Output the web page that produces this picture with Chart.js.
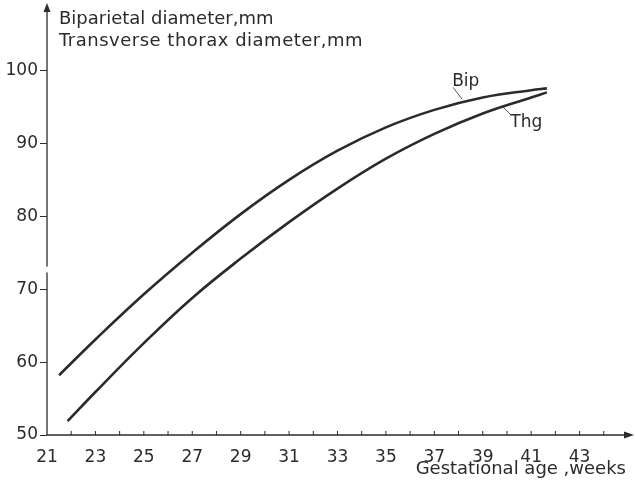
<!DOCTYPE html>
<html>
<head>
<meta charset="utf-8">
<script src="https://cdn.jsdelivr.net/npm/chart.js@4"></script>
<style>
  html, body { margin: 0; padding: 0; background: #fff; }
  #wrap { width: 635px; height: 481px; }
</style>
</head>
<body>
<div id="wrap"><canvas id="chart" width="635" height="481"></canvas></div>
<script>
// values
const bipWeeks = [21.5, 23, 25, 27, 29, 31, 33, 35, 37, 39, 41, 41.65];
const bipValues = [58.2, 63.1, 69.3, 75.0, 80.3, 85.0, 89.0, 92.2, 94.6, 96.3, 97.3, 97.55];
const thgWeeks = [21.85, 23, 25, 27, 29, 31, 33, 35, 37, 39, 41, 41.65];
const thgValues = [51.9, 55.9, 62.6, 68.8, 74.2, 79.2, 83.8, 87.9, 91.3, 94.1, 96.3, 97.0];
const xTickLabels = [21, 23, 25, 27, 29, 31, 33, 35, 37, 39, 41, 43];
const yTickLabels = [50, 60, 70, 80, 90, 100];
const yTitleLines = ['Biparietal diameter,mm', 'Transverse thorax diameter,mm'];
const xTitle = 'Gestational age ,weeks';

const ink = '#2b2b2b';
const font = '"DejaVu Sans", sans-serif';

// axis arrows, break, inner x ticks, titles and curve labels
const decorations = {
  id: 'decorations',
  afterDraw(chart) {
    const ctx = chart.ctx;
    const x = chart.scales.x, y = chart.scales.y;
    const x0 = x.left, y0 = y.bottom;
    ctx.save();
    ctx.strokeStyle = ink;
    ctx.fillStyle = ink;
    ctx.lineWidth = 1.3;

    // y axis up to arrow
    ctx.beginPath();
    ctx.moveTo(x0, y0);
    ctx.lineTo(x0, 8);
    ctx.stroke();
    ctx.beginPath();
    ctx.moveTo(x0, 3); ctx.lineTo(x0 - 3.5, 12); ctx.lineTo(x0 + 3.5, 12);
    ctx.closePath(); ctx.fill();

    // x axis to arrow
    ctx.beginPath();
    ctx.moveTo(x0, y0);
    ctx.lineTo(626, y0);
    ctx.stroke();
    ctx.beginPath();
    ctx.moveTo(634, y0); ctx.lineTo(624, y0 - 3.5); ctx.lineTo(624, y0 + 3.5);
    ctx.closePath(); ctx.fill();

    // break in y axis
    ctx.fillStyle = '#fff';
    const b1 = y.getPixelForValue(73.1), b2 = y.getPixelForValue(72.3);
    ctx.fillRect(x0 - 2, b1, 4, b2 - b1);
    ctx.fillStyle = ink;

    // small ticks on x axis, every week, pointing up
    ctx.lineWidth = 1;
    for (let w = 22; w <= 44; w++) {
      const px = x.getPixelForValue(w);
      ctx.beginPath();
      ctx.moveTo(px, y0);
      ctx.lineTo(px, y0 - 4);
      ctx.stroke();
    }

    // titles
    ctx.font = '18px ' + font;
    ctx.textBaseline = 'alphabetic';
    ctx.textAlign = 'left';
    ctx.fillText(yTitleLines[0], 59, 24);
    ctx.letterSpacing = '0.5px';
    ctx.fillText(yTitleLines[1], 59, 46);
    ctx.letterSpacing = '0px';
    ctx.textAlign = 'right';
    ctx.fillText(xTitle, 626, 474);

    // curve labels with leader lines
    const bx = x.getPixelForValue(38.15), by = y.getPixelForValue(95.9);
    ctx.lineWidth = 0.8;
    ctx.beginPath();
    ctx.moveTo(bx, by - 1);
    ctx.lineTo(bx - 9, by - 13);
    ctx.stroke();
    ctx.textAlign = 'left';
    ctx.font = '17px ' + font;
    ctx.fillText('Bip', bx - 10, by - 14);

    const tx = x.getPixelForValue(39.85), ty = y.getPixelForValue(95.1);
    ctx.beginPath();
    ctx.moveTo(tx, ty + 1);
    ctx.lineTo(tx + 7, ty + 8);
    ctx.stroke();
    ctx.fillText('Thg', tx + 7, ty + 21);

    ctx.restore();
  }
};

new Chart(document.getElementById('chart'), {
  type: 'line',
  data: {
    datasets: [
      {
        label: 'Bip',
        data: bipWeeks.map((w, i) => ({ x: w, y: bipValues[i] })),
        borderColor: ink,
        borderWidth: 2.6,
        pointRadius: 0,
        tension: 0.4,
        fill: false
      },
      {
        label: 'Thg',
        data: thgWeeks.map((w, i) => ({ x: w, y: thgValues[i] })),
        borderColor: ink,
        borderWidth: 2.6,
        pointRadius: 0,
        tension: 0.4,
        fill: false
      }
    ]
  },
  options: {
    responsive: false,
    animation: false,
    layout: { padding: { top: 12, right: 7, left: 0, bottom: 0 } },
    plugins: {
      legend: { display: false },
      tooltip: { enabled: false }
    },
    scales: {
      x: {
        type: 'linear',
        min: 21,
        max: 45,
        afterFit(scale) { scale.height = 46; },
        afterBuildTicks(scale) {
          scale.ticks = xTickLabels.map(v => ({ value: v }));
        },
        border: { display: false },
        grid: { display: false },
        ticks: {
          color: ink,
          font: { family: font, size: 17 },
          padding: 4,
          maxRotation: 0,
          autoSkip: false
        }
      },
      y: {
        min: 50,
        max: 108,
        afterFit(scale) { scale.width = 47; },
        afterBuildTicks(scale) {
          scale.ticks = yTickLabels.map(v => ({ value: v }));
        },
        border: { display: false },
        grid: {
          drawOnChartArea: false,
          drawTicks: true,
          tickLength: 7,
          color: ink,
          lineWidth: 1
        },
        ticks: {
          color: ink,
          font: { family: font, size: 17 },
          padding: 2
        }
      }
    }
  },
  plugins: [decorations]
});
</script>
</body>
</html>
